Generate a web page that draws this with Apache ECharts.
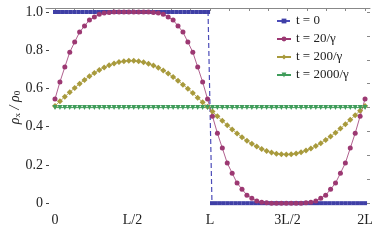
<!DOCTYPE html>
<html><head><meta charset="utf-8">
<script src="https://cdn.jsdelivr.net/npm/echarts@6/dist/echarts.min.js"></script>
<style>html,body{margin:0;padding:0;background:#fff}#c{width:374px;height:241px}</style>
</head><body><div id="c"></div>
<script>
const xTickValues = [0, 0.5, 1, 1.5, 2];
const xTickLabels = ['0', 'L/2', 'L', '3L/2', '2L'];
const yTickValues = [0, 0.2, 0.4, 0.6, 0.8, 1.0];
const yTickLabels = ['0', '0.2', '0.4', '0.6', '0.8', '1.0'];
const seriesNames = ['t = 0', 't = 20/γ', 't = 200/γ', 't = 2000/γ'];

const t0 = [1,1,1,1,1,1,1,1,1,1, 1,1,1,1,1,1,1,1,1,1, 1,1,1,1,1,1,1,1,1,1, 1,1,1,1,1,1,1,1,1,1,
            0,0,0,0,0,0,0,0,0,0, 0,0,0,0,0,0,0,0,0,0, 0,0,0,0,0,0,0,0,0,0, 0,0,0,0,0,0,0,0,0,0];
const t20 = [0.545,0.634,0.712,0.790,0.843,0.895,0.927,0.958,0.974,0.988,0.995,0.998,
             1,1,1,1,1,1,1,1,
             0.998,0.995,0.988,0.974,0.958,0.927,0.895,0.843,0.790,0.712,0.634,0.545,
             0.455,0.366,0.288,0.210,0.157,0.105,0.073,0.042,0.026,0.012,0.005,0.002,
             0,0,0,0,0,0,0,
             0.002,0.005,0.012,0.026,0.042,0.073,0.105,0.157,0.210,0.288,0.366,0.455,0.545];
const t200 = [0.509,0.533,0.557,0.580,0.603,0.625,0.645,0.664,0.681,0.697,0.710,0.722,0.731,0.738,0.743,0.745,
              0.745,0.742,0.737,0.729,0.720,0.708,0.694,0.678,0.660,0.641,0.620,0.599,0.576,0.552,0.528,0.504,
              0.479,0.455,0.431,0.408,0.386,0.365,0.345,0.327,0.311,0.296,0.284,0.273,0.265,0.259,0.256,0.255,
              0.256,0.260,0.267,0.275,0.286,0.299,0.314,0.331,0.349,0.369,0.390,0.413,0.436,0.460,0.484,0.509];
const t2000 = [0.5,0.5,0.5,0.5,0.5,0.5,0.5,0.5,0.5,0.5,0.5,0.5,0.5,0.5,0.5,0.5,
               0.5,0.5,0.5,0.5,0.5,0.5,0.5,0.5,0.5,0.5,0.5,0.5,0.5,0.5,0.5,0.5,
               0.5,0.5,0.5,0.5,0.5,0.5,0.5,0.5,0.5,0.5,0.5,0.5,0.5,0.5,0.5,0.5,
               0.5,0.5,0.5,0.5,0.5,0.5,0.5,0.5,0.5,0.5,0.5,0.5,0.5,0.5,0.5,0.5];

// sample positions: evenly spaced over [0, 2L]
function pairs(vals) {
  const n = vals.length;
  return vals.map((v, i) => [i * 2 / (n - 1), v]);
}

const serif = '"Liberation Serif", "DejaVu Serif", serif';
const colors = ['#3f3fa6', '#9c3872', '#a89a3c', '#3f9c5a'];
const chart = echarts.init(document.getElementById('c'), null, {renderer: 'canvas'});
chart.setOption({
  animation: false,
  backgroundColor: '#fff',
  grid: {left: 46, right: 4, top: 8, bottom: 34, outerBoundsMode: 'none', containLabel: false},
  legend: {
    orient: 'vertical', left: 271, top: 9, itemGap: 4,
    itemWidth: 14, itemHeight: 6,
    textStyle: {fontFamily: serif, fontSize: 13, color: '#222', lineHeight: 14},
    data: seriesNames
  },
  xAxis: [{
    type: 'value', min: -0.058, max: 2.032, position: 'bottom',
    axisLine: {show: false, onZero: false}, axisTick: {show: false}, splitLine: {show: false},
    axisLabel: {customValues: xTickValues, margin: 6, fontFamily: serif, fontSize: 14, color: '#222',
      formatter: v => xTickLabels[xTickValues.indexOf(+v.toFixed(2))] ?? ''}
  }, {
    type: 'value', min: -0.058, max: 2.032, position: 'top',
    axisLine: {show: true, onZero: false, lineStyle: {color: '#888', width: 1}},
    axisTick: {show: true, inside: true, length: 3, customValues: [0,0.25,0.5,0.75,1,1.25,1.5,1.75,2,0.125,0.375,0.625,0.875,1.125,1.375,1.625,1.875], lineStyle: {color: '#888'}},
    axisLabel: {show: false}, splitLine: {show: false}
  }],
  yAxis: [{
    type: 'value', min: -0.02, max: 1.021, position: 'left',
    name: '{a|ρ}{s|x}{a| / ρ}{s|0}', nameLocation: 'middle', nameGap: 24, nameRotate: 90,
    nameMoveOverlap: false,
    nameTextStyle: {rich: {
      a: {fontFamily: serif, fontSize: 14, color: '#222', fontStyle: 'italic'},
      s: {fontFamily: serif, fontSize: 9, color: '#222', padding: [5, 0, 0, 0]}
    }},
    axisLine: {show: false, onZero: false}, splitLine: {show: false},
    axisTick: {show: true, inside: true, length: 3, customValues: yTickValues, lineStyle: {color: '#444'}},
    axisLabel: {customValues: yTickValues, margin: 3, fontFamily: serif, fontSize: 14, color: '#222',
      formatter: v => yTickLabels[yTickValues.indexOf(+v.toFixed(2))] ?? ''}
  }, {
    type: 'value', min: -0.02, max: 1.021, position: 'right',
    axisLine: {show: false, onZero: false}, splitLine: {show: false}, axisLabel: {show: false},
    axisTick: {show: true, inside: true, length: 3, customValues: [0,0.125,0.25,0.375,0.5,0.625,0.75,0.875,1], lineStyle: {color: '#888'}}
  }],
  series: [
    {name: seriesNames[0], type: 'line', data: pairs(t0), color: colors[0],
     symbol: 'rect', symbolSize: 4, lineStyle: {width: 1.2, type: [5, 3], color: '#4b4bb8'},
     itemStyle: {color: colors[0]}},
    {name: seriesNames[1], type: 'line', data: pairs(t20), color: colors[1],
     symbol: 'circle', symbolSize: 5, lineStyle: {width: 0.8, color: colors[1]},
     itemStyle: {color: colors[1]}},
    {name: seriesNames[2], type: 'line', data: pairs(t200), color: colors[2],
     symbol: 'diamond', symbolSize: 6, lineStyle: {width: 0.8, color: colors[2]},
     itemStyle: {color: colors[2]}},
    {name: seriesNames[3], type: 'line', data: pairs(t2000), color: colors[3],
     symbol: 'triangle', symbolRotate: 180, symbolSize: 5, lineStyle: {width: 1, color: colors[3]},
     itemStyle: {color: colors[3]}}
  ]
});
</script></body></html>
